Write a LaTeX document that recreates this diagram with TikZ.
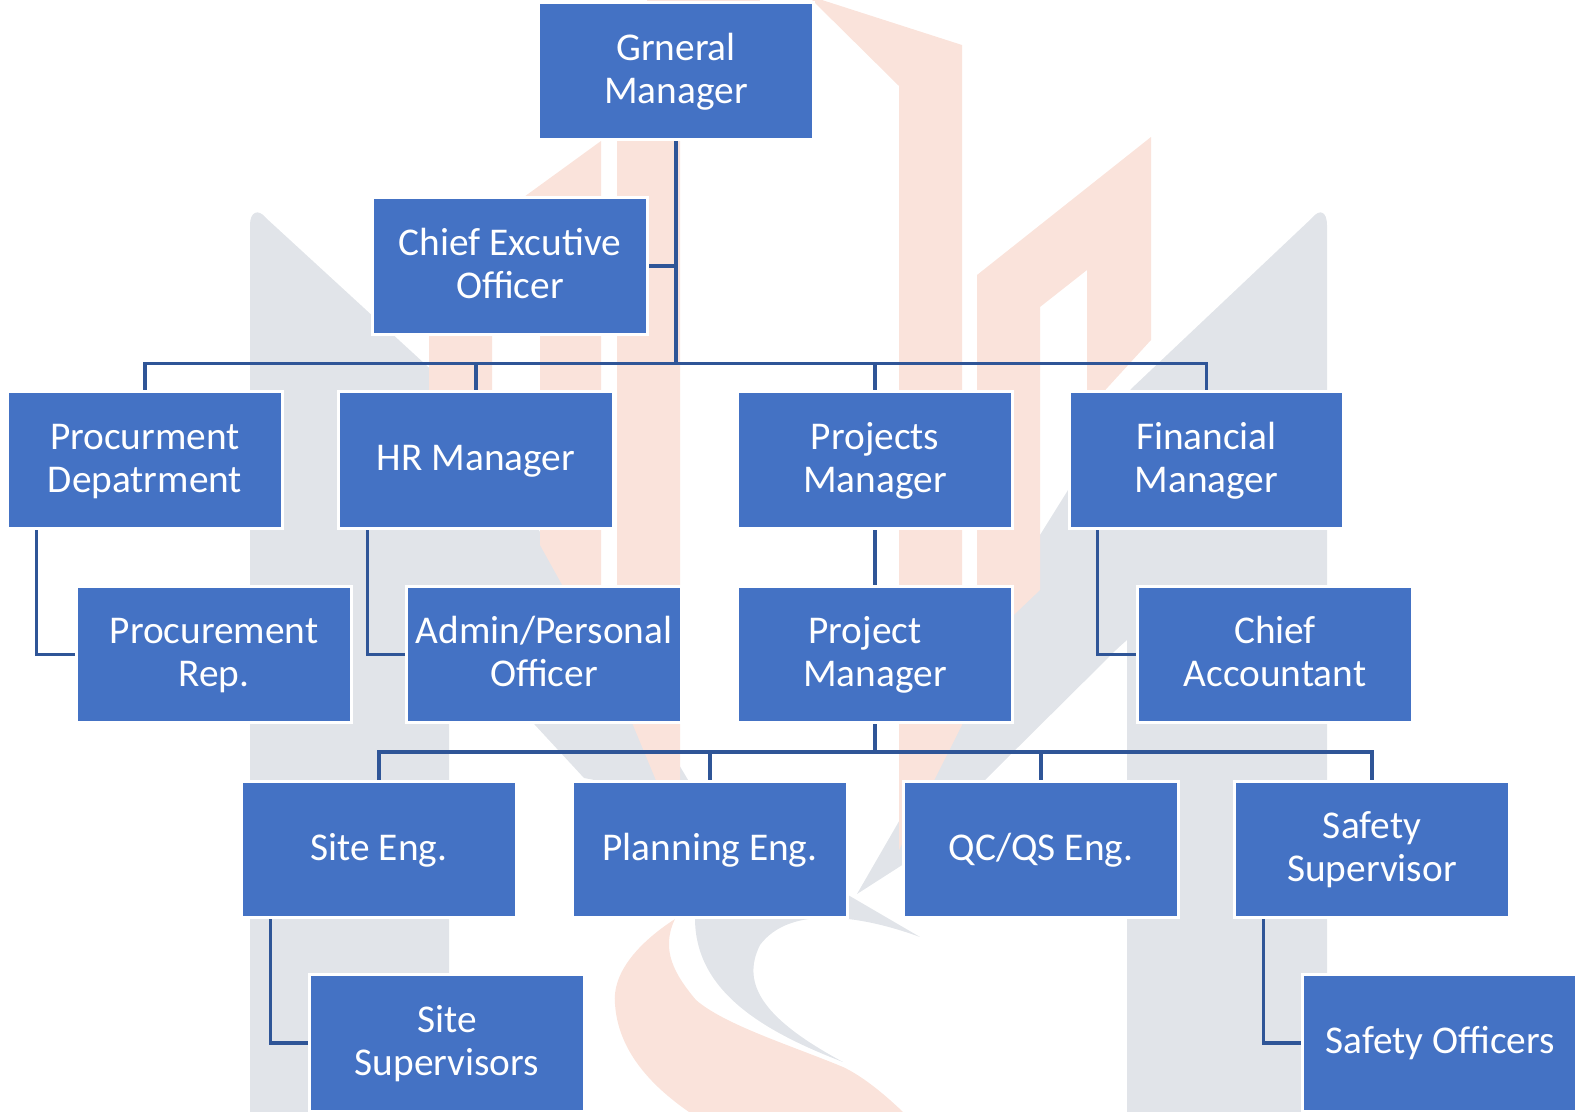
\documentclass[tikz,border=0pt]{standalone}
\usepackage{fontspec}
\setmainfont{Carlito}
\usetikzlibrary{backgrounds}
\definecolor{boxblue}{HTML}{4472C4}
\definecolor{linkblue}{HTML}{2F5597}
\definecolor{wmgray}{HTML}{E1E4E9}
\definecolor{wmorange}{HTML}{FAE3DB}
\newcommand{\lnst}{\rule[-8pt]{0pt}{32pt}}
\tikzset{
  orgbox/.style={rectangle,fill=boxblue,draw=white,line width=2.25pt,minimum width=205.9pt,minimum height=102.4pt,
    inner sep=0pt,align=center,text=white,font=\fontsize{29.5}{32.2}\selectfont},
  link/.style={draw=linkblue,line width=2.4pt},
  wmg/.style={fill=wmgray,draw=none},
  wmo/.style={fill=wmorange,draw=none}
}
\begin{document}
\begin{tikzpicture}[x=0.75pt,y=-0.75pt]
\useasboundingbox (0,0) rectangle (1575,1112);
\begin{scope}[on background layer]
  \clip (0,0) rectangle (1575,1112);
  % watermark: grey M
  \fill[wmg] (250,1112) -- (250,225) .. controls (250,212) and (258,208) .. (266,218)
     -- (450,387) -- (545,540) -- (700,800) -- (584,778) -- (449,632) -- (449,1112) -- cycle;
  \fill[wmg] (1327,1112) -- (1327,225) .. controls (1327,212) and (1320,208) .. (1312,218)
     -- (1131,389) -- (1040,535) -- (924,778) -- (857,894) -- (910,860) -- (987,778) -- (1118,648)
     -- (1127,640) -- (1127,1112) -- cycle;
  \fill[wmg] (848,895) -- (920,937) .. controls (860,915) and (790,905) .. (760,945)
     .. controls (740,985) and (765,1020) .. (843,1062)
     .. controls (760,1030) and (695,990) .. (695,918) -- cycle;
  % watermark: orange
  \fill[wmo] (822,0) -- (962,45) -- (962,725) -- (899,850) -- (899,86) -- (812,0) -- cycle;
  \fill[wmo] (977,275) -- (1151,137) -- (1151,340) -- (1087,410) -- (1087,270) -- (1040,307) -- (1040,590) -- (977,650) -- cycle;
  \fill[wmo] (617,141) -- (680,141) -- (680,790) -- (660,790) -- (633,725) -- (617,690) -- cycle;
  \fill[wmo] (601,141) -- (601,600) -- (565,590) -- (540,545) -- (540,255) -- (492,300) -- (492,420) -- (429,420) -- (429,266) -- cycle;
  \fill[wmo] (647,0) rectangle (760,3);
  \fill[wmo] (675,919) .. controls (635,945) and (612,975) .. (615,1004)
     .. controls (618,1050) and (650,1085) .. (689,1112) -- (903,1112)
     .. controls (880,1090) and (860,1075) .. (843,1067)
     .. controls (790,1045) and (725,1025) .. (696,1000)
     .. controls (675,975) and (660,950) .. (675,919) -- cycle;
\end{scope}

\node[orgbox] (gm)   at (676,71)     {\lnst Grneral\\\lnst Manager};
\node[orgbox] (ceo)  at (510,266)    {\lnst Chief Excutive\\\lnst Officer};
\node[orgbox] (proc) at (145,460)    {\lnst Procurment\\\lnst Depatrment};
\node[orgbox] (hr)   at (476,460)    {\lnst HR Manager};
\node[orgbox] (pjs)  at (875,460)    {\lnst Projects\\\lnst Manager};
\node[orgbox] (fin)  at (1206.5,460) {\lnst Financial\\\lnst Manager};
\node[orgbox] (rep)  at (214,654.5)  {\lnst Procurement\\\lnst Rep.};
\node[orgbox] (adm)  at (544,654.5)  {\lnst Admin/Personal\\\lnst Officer};
\node[orgbox] (pm)   at (875,654.5)  {\lnst Project\rule{15pt}{0pt}\\\lnst Manager};
\node[orgbox] (acc)  at (1275,654.5) {\lnst Chief\\\lnst Accountant};
\node[orgbox] (site) at (379,849.5)  {\lnst Site Eng.};
\node[orgbox] (plan) at (710,849.5)  {\lnst Planning Eng.};
\node[orgbox] (qc)   at (1041,849.5) {\lnst QC/QS Eng.};
\node[orgbox] (safe) at (1372,849.5) {\lnst Safety\\\lnst Supervisor};
\node[orgbox] (sup)  at (447,1043)   {\lnst Site\\\lnst Supervisors};
\node[orgbox] (off)  at (1440,1043)  {\lnst Safety Officers};

\coordinate (busA) at (676,363.5);
\coordinate (busB) at (875,752);

\begin{scope}[on background layer]
  \draw[link] (gm.south) -- (gm.south |- busA);
  \draw[link] (ceo.east) -- (ceo.east -| gm.south);
  \draw[link] (proc.north) |- (busA) -| (fin.north);
  \draw[link] (hr.north) -- (hr.north |- busA);
  \draw[link] (pjs.north) -- (pjs.north |- busA);
  \draw[link] (pjs.south) -- (pm.north);
  \draw[link] ([xshift=22.5pt]proc.south west) |- (rep.west);
  \draw[link] ([xshift=22.5pt]hr.south west) |- (adm.west);
  \draw[link] ([xshift=22.5pt]fin.south west) |- (acc.west);
  \draw[link] (pm.south) -- (pm.south |- busB);
  \draw[link] (site.north) |- (busB) -| (safe.north);
  \draw[link] (plan.north) -- (plan.north |- busB);
  \draw[link] (qc.north) -- (qc.north |- busB);
  \draw[link] ([xshift=22.5pt]site.south west) |- (sup.west);
  \draw[link] ([xshift=22.5pt]safe.south west) |- (off.west);
\end{scope}
\end{tikzpicture}
\end{document}
